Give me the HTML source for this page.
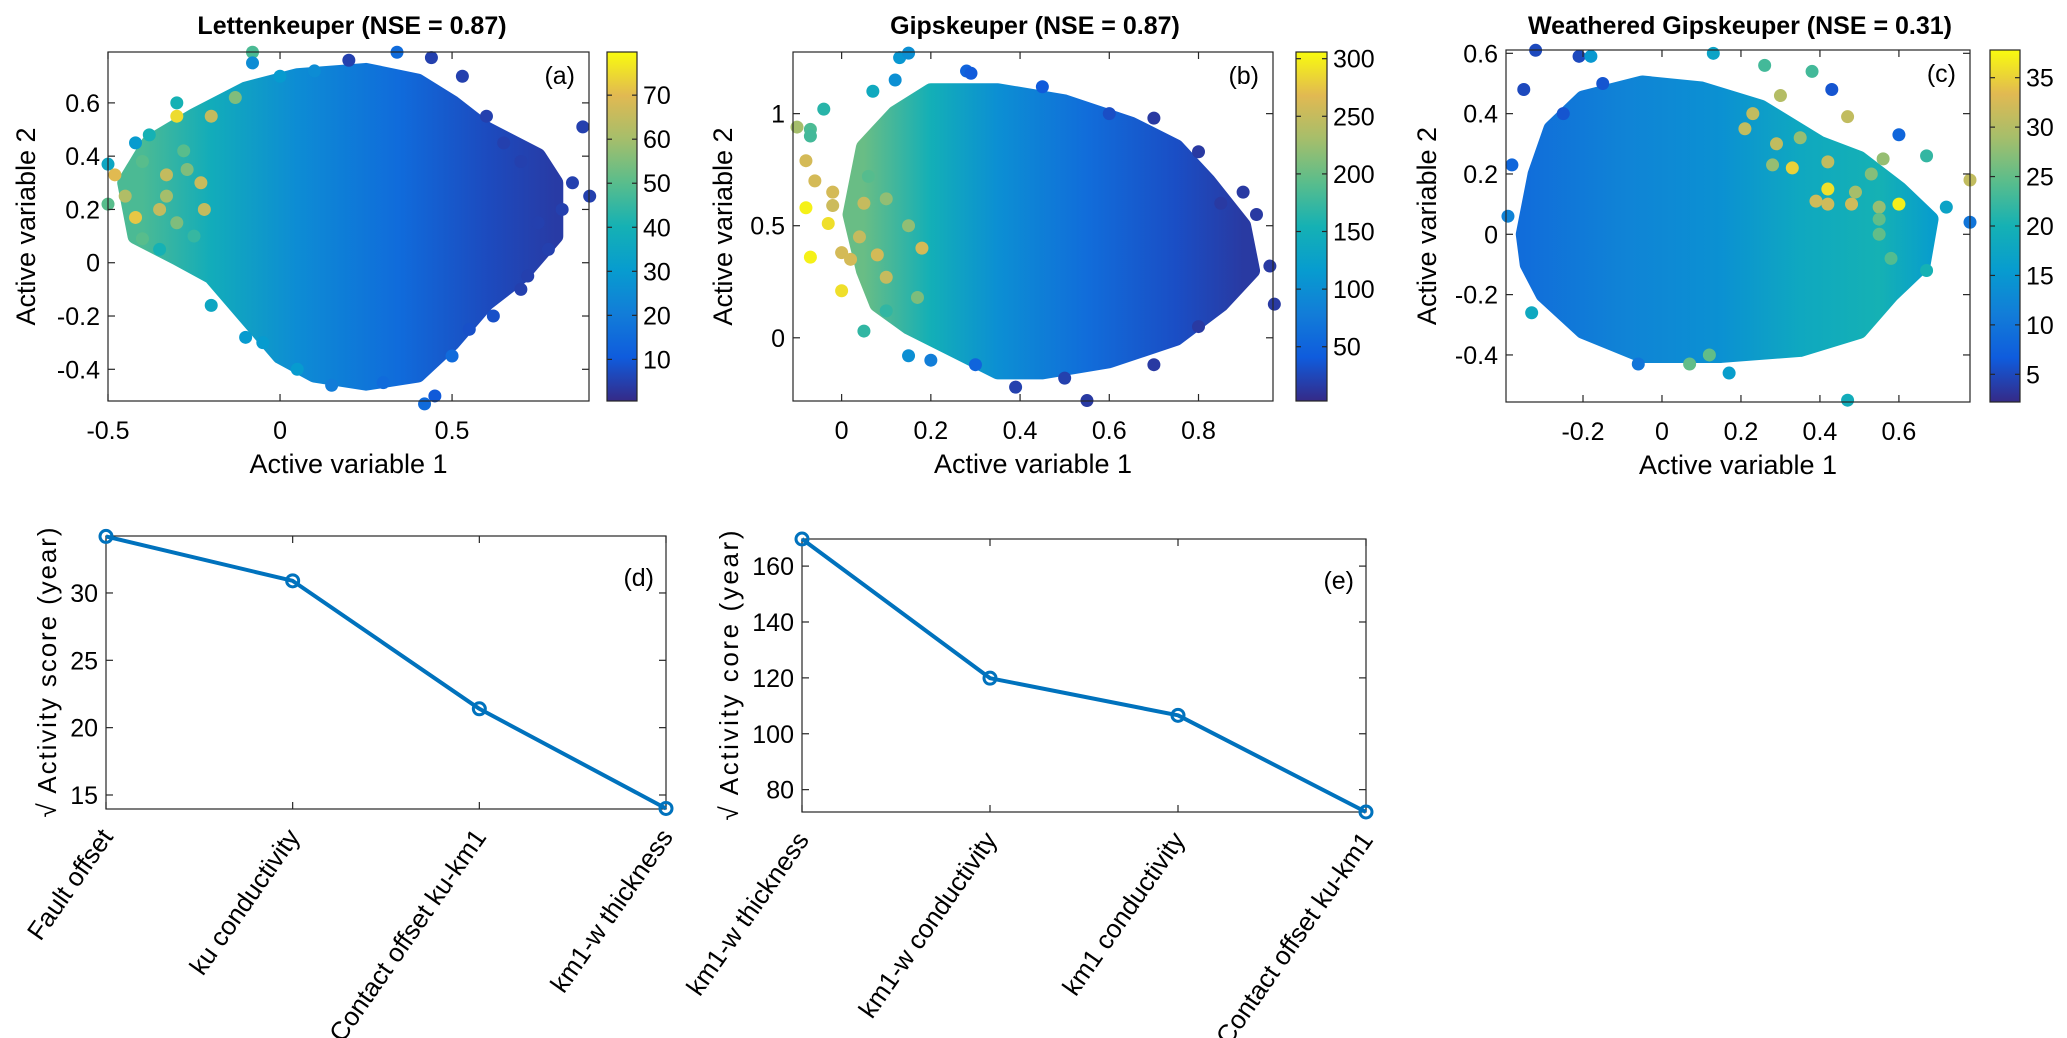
<!DOCTYPE html>
<html><head><meta charset="utf-8"><style>
html,body{margin:0;padding:0;background:#fff}
svg{display:block;font-family:"Liberation Sans",sans-serif}
</style></head><body>
<svg id="fig" width="2067" height="1038" viewBox="0 0 2067 1038" xmlns="http://www.w3.org/2000/svg">
<defs id="defs"></defs>
<g id="root"></g>
</svg>
<script>
// ---------- data ----------
const aHull = [[-0.42,0.1],[-0.45,0.3],[-0.38,0.45],[-0.25,0.55],[-0.1,0.65],[0.05,0.7],[0.25,0.72],[0.4,0.68],[0.5,0.6],[0.6,0.5],[0.75,0.4],[0.8,0.3],[0.8,0.1],[0.7,-0.05],[0.6,-0.15],[0.5,-0.3],[0.4,-0.42],[0.25,-0.45],[0.1,-0.42],[0.0,-0.35],[-0.1,-0.2],[-0.2,-0.05],[-0.3,0.02]];
const aGradX = [-0.4,-0.2,0.05,0.35,0.6,0.8];
const aGradV = [48,38,25,15,7,4];
const aPts = [[-0.5,0.37,35],[-0.48,0.33,70],[-0.5,0.22,50],[-0.45,0.25,62],[-0.42,0.17,72],[-0.3,0.55,75],[-0.2,0.55,65],[-0.35,0.2,65],[-0.22,0.2,65],[-0.23,0.3,66],[-0.08,0.79,48],[-0.08,0.75,25],[-0.13,0.62,55],[0.34,0.79,15],[0.44,0.77,5],[0.2,0.76,5],[0.53,0.7,5],[0.88,0.51,5],[0.85,0.3,5],[0.9,0.25,5],[0.82,0.2,5],[0.5,-0.35,15],[0.42,-0.53,15],[0.45,-0.5,10],[0.3,-0.45,15],[0.05,-0.4,30],[-0.1,-0.28,30],[-0.2,-0.16,35],[0.72,-0.05,5],[0.7,-0.1,5],[-0.4,0.09,50],[-0.35,0.05,40],[-0.3,0.6,40],[-0.38,0.48,40],[-0.42,0.45,30],[0.7,0.38,5],[0.75,0.15,5],[-0.33,0.33,65],[-0.33,0.25,60],[-0.27,0.35,55],[-0.3,0.15,55],[-0.25,0.1,45],[-0.4,0.38,50],[-0.28,0.42,50],[0.6,0.55,5],[0.65,0.45,5],[0.78,0.05,5],[0.62,-0.2,8],[0.55,-0.25,8],[0.15,-0.46,20],[-0.05,-0.3,30],[0.0,0.7,30],[0.1,0.72,25]];
const bHull = [[0.05,0.3],[0.02,0.55],[0.05,0.85],[0.12,1.0],[0.2,1.1],[0.35,1.1],[0.5,1.05],[0.65,0.95],[0.75,0.85],[0.82,0.7],[0.9,0.5],[0.92,0.3],[0.85,0.15],[0.75,0.0],[0.6,-0.1],[0.45,-0.15],[0.35,-0.15],[0.25,-0.05],[0.15,0.05],[0.08,0.15]];
const bGradX = [0.05,0.2,0.35,0.55,0.75,0.9];
const bGradV = [200,150,100,60,30,15];
const bPts = [[-0.1,0.94,230],[-0.07,0.93,185],[-0.07,0.9,180],[-0.04,1.02,165],[-0.08,0.79,260],[-0.06,0.7,260],[-0.02,0.65,260],[-0.08,0.58,300],[-0.02,0.59,255],[-0.03,0.51,290],[-0.07,0.36,300],[0.0,0.21,290],[0.0,0.38,260],[0.02,0.35,260],[0.04,0.45,250],[0.05,0.6,250],[0.08,0.37,260],[0.1,0.27,250],[0.18,0.4,260],[0.15,0.5,220],[0.17,0.18,210],[0.05,0.03,170],[0.1,0.12,170],[0.13,1.25,110],[0.15,1.27,100],[0.12,1.15,100],[0.07,1.1,140],[0.28,1.19,50],[0.29,1.18,40],[0.55,-0.28,15],[0.39,-0.22,20],[0.7,0.98,15],[0.8,0.83,15],[0.97,0.15,15],[0.96,0.32,15],[0.93,0.55,15],[0.9,0.65,15],[0.15,-0.08,100],[0.2,-0.1,80],[0.7,-0.12,15],[0.06,0.72,190],[0.1,0.62,220],[0.45,1.12,40],[0.6,1.0,30],[0.85,0.6,15],[0.8,0.05,15],[0.5,-0.18,20],[0.3,-0.12,50]];
const cHull = [[-0.35,0.0],[-0.32,0.2],[-0.28,0.35],[-0.2,0.45],[-0.05,0.5],[0.1,0.48],[0.25,0.42],[0.4,0.3],[0.5,0.25],[0.6,0.15],[0.68,0.05],[0.66,-0.1],[0.58,-0.2],[0.5,-0.32],[0.35,-0.38],[0.15,-0.4],[-0.05,-0.4],[-0.2,-0.32],[-0.3,-0.2],[-0.34,-0.1]];
const cGradX = [-0.35,-0.1,0.15,0.35,0.55,0.68];
const cGradV = [9,12,14,18,20,16];
const cPts = [[-0.32,0.61,5],[-0.21,0.59,5],[-0.18,0.59,15],[0.13,0.6,17],[-0.35,0.48,5],[-0.39,0.06,12],[-0.38,0.23,8],[0.78,0.18,31],[0.78,0.04,10],[0.47,-0.55,19],[0.17,-0.46,16],[0.26,0.56,23],[0.38,0.54,23],[0.47,0.39,31],[0.23,0.4,31],[0.21,0.35,31],[0.29,0.3,31],[0.33,0.22,35],[0.42,0.15,36],[0.42,0.1,32],[0.39,0.11,32],[0.48,0.1,32],[0.6,0.1,37],[0.42,0.24,31],[0.49,0.14,29],[0.56,0.25,28],[0.53,0.2,27],[0.55,0.09,28],[0.55,0.05,25],[0.55,0.0,25],[0.67,0.26,22],[0.58,-0.08,24],[0.67,-0.12,20],[0.35,0.32,28],[0.3,0.46,30],[0.28,0.23,28],[0.12,-0.4,25],[0.07,-0.43,25],[-0.06,-0.43,10],[-0.33,-0.26,18],[0.6,0.33,8],[0.43,0.48,6],[0.72,0.09,17],[-0.25,0.4,6],[-0.15,0.5,6]];
const aXTicks = [-0.5,0,0.5], aYTicks = [-0.4,-0.2,0,0.2,0.4,0.6], aCTicks = [10,20,30,40,50,60,70];
const bXTicks = [0,0.2,0.4,0.6,0.8], bYTicks = [0,0.5,1], bCTicks = [50,100,150,200,250,300];
const cXTicks = [-0.2,0,0.2,0.4,0.6], cYTicks = [-0.4,-0.2,0,0.2,0.4,0.6], cCTicks = [5,10,15,20,25,30,35];
const dCats = ["Fault offset","ku conductivity","Contact offset ku-km1","km1-w thickness"];
const dVals = [34.2,30.9,21.4,14.0];
const dYTicks = [15,20,25,30];
const eCats = ["km1-w thickness","km1-w conductivity","km1 conductivity","Contact offset ku-km1"];
const eVals = [169.7,119.9,106.6,72.0];
const eYTicks = [80,100,120,140,160];

// ---------- helpers ----------
const NS="http://www.w3.org/2000/svg";
const root=document.getElementById('root'), defs=document.getElementById('defs');
function mk(tag,attrs,parent){const e=document.createElementNS(NS,tag);for(const k in attrs)e.setAttribute(k,attrs[k]);(parent||root).appendChild(e);return e;}
const PAR=[[53,42,135],[15,92,221],[18,125,216],[7,156,207],[21,177,180],[89,189,140],[165,190,107],[225,185,82],[249,251,14]];
function parula(t){t=Math.max(0,Math.min(1,t));const s=t*(PAR.length-1);const i=Math.min(PAR.length-2,Math.floor(s));const f=s-i;const c=PAR[i].map((v,k)=>Math.round(v+(PAR[i+1][k]-v)*f));return `rgb(${c[0]},${c[1]},${c[2]})`;}
function txt(s,x,y,size,attrs,parent){const t=mk('text',Object.assign({x:x,y:y,'font-size':size,fill:'#000'},attrs||{}),parent);t.textContent=s;return t;}

function scatterPanel(o){
  const g=mk('g',{});
  
  
  const px=x=>o.L+(x-o.x0)/(o.x1-o.x0)*(o.R-o.L);
  const py=y=>o.B-(y-o.y0)/(o.y1-o.y0)*(o.B-o.T);
  const cn=v=>(v-o.c0)/(o.c1-o.c0);
  const gr=mk('linearGradient',{id:'g'+o.name,gradientUnits:'userSpaceOnUse',x1:px(o.gx[0]),y1:0,x2:px(o.gx[o.gx.length-1]),y2:0},defs);
  o.gx.forEach((x,i)=>{mk('stop',{offset:(x-o.gx[0])/(o.gx[o.gx.length-1]-o.gx[0]),'stop-color':parula(cn(o.gv[i]))},gr);});
  const blob=mk('polygon',{points:o.hull.map(p=>px(p[0])+','+py(p[1])).join(' '),fill:`url(#g${o.name})`,stroke:`url(#g${o.name})`,'stroke-width':16,'stroke-linejoin':'round'},g);
  
  
  o.pts.forEach(p=>{const c=mk('circle',{cx:px(p[0]),cy:py(p[1]),r:6.5,fill:parula(cn(p[2]))},g);
    
    });
  const box=mk('rect',{x:o.L,y:o.T,width:o.R-o.L,height:o.B-o.T,fill:'none',stroke:'#262626','stroke-width':1.2},g);
  
  
  o.xt.forEach(v=>{const x=px(v);mk('line',{x1:x,y1:o.B,x2:x,y2:o.B-7,stroke:'#262626','stroke-width':1.2},g);mk('line',{x1:x,y1:o.T,x2:x,y2:o.T+7,stroke:'#262626','stroke-width':1.2},g);
    const t=txt(String(v),x,o.B+38,25,{'text-anchor':'middle'},g);});
  o.yt.forEach(v=>{const y=py(v);mk('line',{x1:o.L,y1:y,x2:o.L+7,y2:y,stroke:'#262626','stroke-width':1.2},g);mk('line',{x1:o.R,y1:y,x2:o.R-7,y2:y,stroke:'#262626','stroke-width':1.2},g);
    const t=txt(String(v),o.L-8,y+9,25,{'text-anchor':'end'},g);});
  const xl=txt('Active variable 1',(o.L+o.R)/2,o.B+72,27,{'text-anchor':'middle'},g);
  const yx=o.ylx, yy=(o.T+o.B)/2;
  const yl=txt('Active variable 2',yx,yy,27,{'text-anchor':'middle',transform:`rotate(-90 ${yx} ${yy})`},g);
  const ti=txt(o.title,o.tx,34,25,{'text-anchor':'middle','font-weight':'bold'},g);
  const pl=txt(o.tag,o.R-14,o.T+32,25,{'text-anchor':'end'},g);
  const cg=mk('linearGradient',{id:'cb'+o.name,x1:0,y1:1,x2:0,y2:0},defs);
  PAR.forEach((c,i)=>mk('stop',{offset:i/(PAR.length-1),'stop-color':`rgb(${c})`},cg));
  const cb=mk('rect',{x:o.cL,y:o.T,width:o.cR-o.cL,height:o.B-o.T,fill:`url(#cb${o.name})`,stroke:'#262626','stroke-width':1.2},g);
  
  
  const cy=v=>o.B-(v-o.c0)/(o.c1-o.c0)*(o.B-o.T);
  o.ct.forEach(v=>{const y=cy(v);mk('line',{x1:o.cR,y1:y,x2:o.cR-5,y2:y,stroke:'#262626','stroke-width':1.2},g);mk('line',{x1:o.cL,y1:y,x2:o.cL+5,y2:y,stroke:'#262626','stroke-width':1.2},g);
    const t=txt(String(v),o.cR+6,y+9,25,{},g);});
}

scatterPanel({name:'a',title:'Lettenkeuper (NSE = 0.87)',tag:'(a)',tx:352,L:108,R:589,T:52,B:401,x0:-0.5,x1:0.898,y0:-0.519,y1:0.791,c0:0.55,c1:79.8,cL:607,cR:637,ylx:35,hull:aHull,gx:aGradX,gv:aGradV,pts:aPts,xt:aXTicks,yt:aYTicks,ct:aCTicks});
scatterPanel({name:'b',title:'Gipskeuper (NSE = 0.87)',tag:'(b)',tx:1035,L:793,R:1273,T:52,B:401,x0:-0.109,x1:0.967,y0:-0.282,y1:1.275,c0:2.9,c1:305.8,cL:1296,cR:1327,ylx:732,hull:bHull,gx:bGradX,gv:bGradV,pts:bPts,xt:bXTicks,yt:bYTicks,ct:bCTicks});
scatterPanel({name:'c',title:'Weathered Gipskeuper (NSE = 0.31)',tag:'(c)',tx:1740,L:1506,R:1970,T:50,B:402,x0:-0.395,x1:0.78,y0:-0.556,y1:0.611,c0:2.2,c1:37.8,cL:1990,cR:2020,ylx:1436,hull:cHull,gx:cGradX,gv:cGradV,pts:cPts,xt:cXTicks,yt:cYTicks,ct:cCTicks});

function linePanel(o){
  const g=mk('g',{});
  
  
  const px=i=>o.L+i/(o.cats.length-1)*(o.R-o.L);
  const py=v=>o.B-(v-o.y0)/(o.y1-o.y0)*(o.B-o.T);
  const box=mk('rect',{x:o.L,y:o.T,width:o.R-o.L,height:o.B-o.T,fill:'none',stroke:'#262626','stroke-width':1.2},g);
  
  
  o.yt.forEach(v=>{const y=py(v);mk('line',{x1:o.L,y1:y,x2:o.L+7,y2:y,stroke:'#262626','stroke-width':1.2},g);mk('line',{x1:o.R,y1:y,x2:o.R-7,y2:y,stroke:'#262626','stroke-width':1.2},g);
    const t=txt(String(v),o.L-8,y+9,25,{'text-anchor':'end'},g);});
  o.cats.forEach((c,i)=>{const x=px(i);mk('line',{x1:x,y1:o.B,x2:x,y2:o.B-7,stroke:'#262626','stroke-width':1.2},g);mk('line',{x1:x,y1:o.T,x2:x,y2:o.T+7,stroke:'#262626','stroke-width':1.2},g);
    const ax=x+8, ay=o.B+28;
    const t=txt(c,ax,ay,26,{'text-anchor':'end',transform:`rotate(-55 ${ax} ${ay})`},g);});
  const ln=mk('polyline',{points:o.vals.map((v,i)=>px(i)+','+py(v)).join(' '),fill:'none',stroke:'#0072BD','stroke-width':4,'stroke-linejoin':'round'},g);
  
  
  o.vals.forEach((v,i)=>{const c=mk('circle',{cx:px(i),cy:py(v),r:6,fill:'none',stroke:'#0072BD','stroke-width':3},g);
    
    });
  const pl=txt(o.tag,o.R-12,o.T+50,25,{'text-anchor':'end'},g);
  const yx=o.ylx, yy=(o.T+o.B)/2;
  const yl=txt(o.ylabel,yx,yy,26,{'text-anchor':'middle',transform:`rotate(-90 ${yx} ${yy})`,textLength:290,lengthAdjust:'spacing'},g);
}
linePanel({name:'d',tag:'(d)',L:106,R:666,T:536,B:809,y0:13.96,y1:34.23,cats:dCats,vals:dVals,yt:dYTicks,ylx:56,ylabel:'√ Activity score (year)'});
linePanel({name:'e',tag:'(e)',L:802,R:1366,T:539,B:812,y0:72.0,y1:169.7,cats:eCats,vals:eVals,yt:eYTicks,ylx:738,ylabel:'√ Activity  core (year)'});
</script>
</body></html>
